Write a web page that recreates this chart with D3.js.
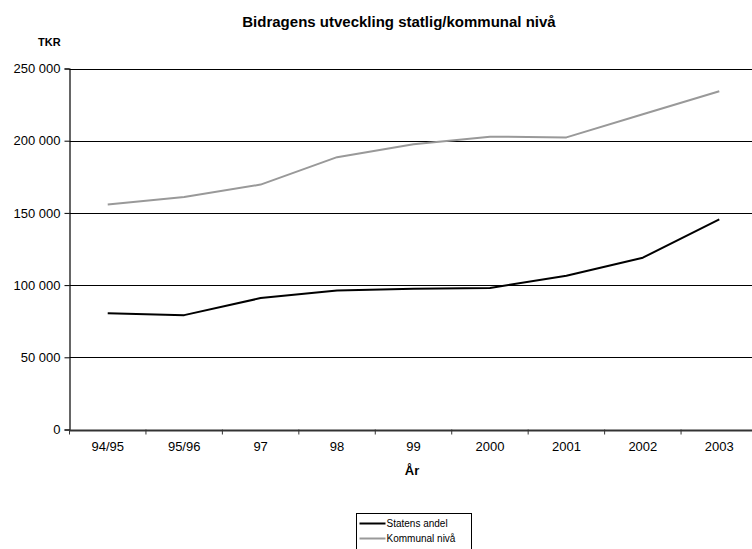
<!DOCTYPE html>
<html>
<head>
<meta charset="utf-8">
<script src="https://cdn.jsdelivr.net/npm/d3@7/dist/d3.min.js"></script>
<style>
  html, body { margin: 0; padding: 0; background: #fff; }
  svg { display: block; font-family: Arial, "Liberation Sans", sans-serif; }
</style>
</head>
<body>
<svg id="chart" width="752" height="549"></svg>
<script>
// Year labels along the x axis
const years = ["94/95", "95/96", "97", "98", "99", "2000", "2001", "2002", "2003"];
// Contributions in TKR
const statensAndel = [80500, 79200, 91000, 96200, 97400, 98000, 106500, 119000, 145500];
const kommunalNiva = [155800, 161000, 169600, 188600, 197600, 202800, 202300, 218300, 234300];
const yTicks = [0, 50000, 100000, 150000, 200000, 250000];

const seriesList = [
  { name: "Statens andel", values: statensAndel, color: "#000000" },
  { name: "Kommunal nivå", values: kommunalNiva, color: "#999999" }
];

(function () {
  const svg = d3.select("#chart");
  const plotLeft = 69.5, plotRight = 757.5, plotTop = 68.5, plotBottom = 429.5;

  const x = d3.scaleBand().domain(years).range([plotLeft, plotRight]);
  const y = d3.scaleLinear().domain([0, 250000]).range([plotBottom, plotTop]);

  const fmt = v => d3.format(",")(v).replace(/,/g, " ");

  // Horizontal gridlines
  svg.append("g")
    .selectAll("line")
    .data(yTicks.filter(d => d > 0))
    .join("line")
    .attr("x1", plotLeft).attr("x2", plotRight)
    .attr("y1", d => Math.round(y(d)) + 0.5).attr("y2", d => Math.round(y(d)) + 0.5)
    .attr("stroke", "#000").attr("stroke-width", 1);

  // Y axis
  const yAxis = svg.append("g")
    .attr("transform", `translate(${plotLeft},0)`)
    .call(d3.axisLeft(y).tickValues(yTicks).tickFormat(fmt).tickSize(5).tickPadding(4));
  yAxis.select(".domain").attr("stroke", "#000").attr("stroke-width", 1.2);
  yAxis.selectAll(".tick line").attr("stroke", "#000");
  yAxis.selectAll(".tick text").attr("font-size", 13).attr("fill", "#000")
    .attr("font-family", "Arial, 'Liberation Sans', sans-serif");

  // X axis with ticks on band boundaries
  const xAxis = svg.append("g")
    .attr("transform", `translate(0,${plotBottom + 0.5})`)
    .call(d3.axisBottom(x).tickSize(0).tickPadding(12));
  xAxis.select(".domain").attr("stroke", "#333").attr("stroke-width", 2);
  xAxis.selectAll(".tick text").attr("font-size", 13).attr("fill", "#000")
    .attr("font-family", "Arial, 'Liberation Sans', sans-serif");
  svg.append("g")
    .selectAll("line")
    .data(years)
    .join("line")
    .attr("x1", d => x(d)).attr("x2", d => x(d))
    .attr("y1", plotBottom).attr("y2", plotBottom + 5)
    .attr("stroke", "#333").attr("stroke-width", 1);

  // Series lines
  const line = d3.line()
    .x((d, i) => x(years[i]) + x.bandwidth() / 2)
    .y(d => y(d));

  svg.append("g")
    .selectAll("path")
    .data(seriesList.slice().reverse())
    .join("path")
    .attr("d", d => line(d.values))
    .attr("fill", "none")
    .attr("stroke", d => d.color)
    .attr("stroke-width", 2)
    .attr("stroke-linejoin", "round");

  // Title and axis titles
  svg.append("text")
    .attr("x", 399).attr("y", 27)
    .attr("text-anchor", "middle")
    .attr("font-size", 15).attr("font-weight", "bold")
    .text("Bidragens utveckling statlig/kommunal nivå");

  svg.append("text")
    .attr("x", 38).attr("y", 46)
    .attr("font-size", 11).attr("font-weight", "bold")
    .text("TKR");

  svg.append("text")
    .attr("x", 412).attr("y", 475)
    .attr("text-anchor", "middle")
    .attr("font-size", 13).attr("font-weight", "bold")
    .text("År");

  // Legend
  const lg = svg.append("g").attr("transform", "translate(356.5,513.5)");
  lg.append("rect")
    .attr("width", 115).attr("height", 40)
    .attr("fill", "#fff").attr("stroke", "#000").attr("stroke-width", 1);
  const items = lg.selectAll("g.item")
    .data(seriesList)
    .join("g")
    .attr("class", "item")
    .attr("transform", (d, i) => `translate(0,${10 + i * 15})`);
  items.append("line")
    .attr("x1", 3).attr("x2", 29)
    .attr("stroke", d => d.color).attr("stroke-width", 2);
  items.append("text")
    .attr("x", 30).attr("y", 3.5)
    .attr("font-size", 10)
    .text(d => d.name);
})();
</script>
</body>
</html>
